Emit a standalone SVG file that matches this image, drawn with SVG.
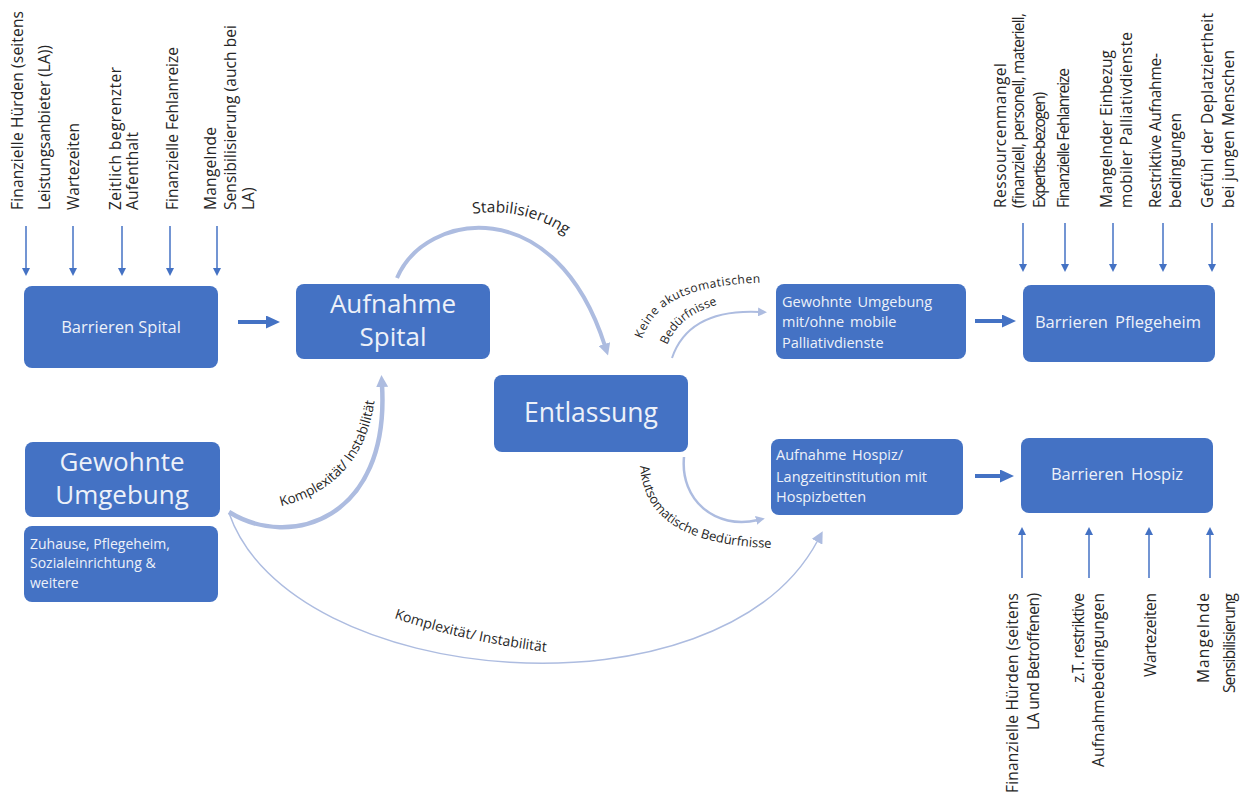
<svg xmlns="http://www.w3.org/2000/svg" width="1243" height="796" viewBox="0 0 1243 796">
<style>
text { font-family: "Open Sans", "Noto Sans", "DejaVu Sans", sans-serif; }
.box { fill: #4472C4; }
.bt { fill: #EDF1F9; }
.lbl { fill: #262626; font-size: 15.5px; }
.arr { stroke: #4472C4; stroke-width: 1.5; fill: none; }
.thick { stroke: #4472C4; stroke-width: 4; fill: none; }
.arc { stroke: #ADBCE0; fill: none; }
.al { fill: #262626; }
</style>
<defs>
<marker id="mD" markerUnits="userSpaceOnUse" markerWidth="8" markerHeight="8" refX="0" refY="4" orient="auto"><path d="M0,0 L8,4 L0,8 z" fill="#4472C4"/></marker>
<marker id="mT" markerUnits="userSpaceOnUse" markerWidth="14" markerHeight="13" refX="0" refY="6.5" orient="auto"><path d="M0,0 L14,6.5 L0,13 z" fill="#4472C4"/></marker>
<marker id="mL" markerUnits="userSpaceOnUse" markerWidth="12" markerHeight="12" refX="2" refY="6" orient="auto"><path d="M0,0 L12,6 L0,12 z" fill="#ADBCE0"/></marker>
<marker id="mS" markerUnits="userSpaceOnUse" markerWidth="9" markerHeight="9" refX="2" refY="4.5" orient="auto"><path d="M0,0 L9,4.5 L0,9 z" fill="#ADBCE0"/></marker>
<path id="tpStab" d="M448,220 C485,206 545,208 585,252"/>
<path id="tpK1" d="M278,507 C330,495 372,460 376,385"/>
<path id="tpKe1" d="M642,339 C655,302 688,284 775,282"/>
<path id="tpKe2" d="M667,345 C677,322 695,309 732,301"/>
<path id="tpAk" d="M640,466 C644,522 690,550 795,548"/>
<path id="tpBig" d="M394,618 Q470,644 565,654"/>
</defs>
<rect width="1243" height="796" fill="#ffffff"/>

<g id="connectors">
  <line class="arr" x1="26" y1="226" x2="26" y2="268" marker-end="url(#mD)"/>
  <line class="arr" x1="73" y1="226" x2="73" y2="268" marker-end="url(#mD)"/>
  <line class="arr" x1="122" y1="226" x2="122" y2="268" marker-end="url(#mD)"/>
  <line class="arr" x1="170" y1="226" x2="170" y2="268" marker-end="url(#mD)"/>
  <line class="arr" x1="217" y1="226" x2="217" y2="268" marker-end="url(#mD)"/>
  <line class="arr" x1="1023" y1="223" x2="1023" y2="264" marker-end="url(#mD)"/>
  <line class="arr" x1="1065" y1="223" x2="1065" y2="264" marker-end="url(#mD)"/>
  <line class="arr" x1="1113" y1="223" x2="1113" y2="264" marker-end="url(#mD)"/>
  <line class="arr" x1="1163" y1="223" x2="1163" y2="264" marker-end="url(#mD)"/>
  <line class="arr" x1="1212" y1="223" x2="1212" y2="264" marker-end="url(#mD)"/>
  <line class="arr" x1="1022" y1="578" x2="1022" y2="535" marker-end="url(#mD)"/>
  <line class="arr" x1="1089" y1="578" x2="1089" y2="535" marker-end="url(#mD)"/>
  <line class="arr" x1="1149" y1="578" x2="1149" y2="535" marker-end="url(#mD)"/>
  <line class="arr" x1="1210" y1="578" x2="1210" y2="535" marker-end="url(#mD)"/>
  <line class="thick" x1="238" y1="322" x2="266" y2="322" marker-end="url(#mT)"/>
  <line class="thick" x1="975" y1="321" x2="1002" y2="321" marker-end="url(#mT)"/>
  <line class="thick" x1="975" y1="476" x2="1000" y2="476" marker-end="url(#mT)"/>
  <path class="arc" stroke-width="4" d="M397,278 C425,212 555,190 605,346" marker-end="url(#mL)"/>
  <path class="arc" stroke-width="4.5" d="M229,512 C290,550 390,520 382,385" marker-end="url(#mL)"/>
  <path class="arc" stroke-width="2" d="M672,358 C685,320 720,310 760,312" marker-end="url(#mS)"/>
  <path class="arc" stroke-width="2.5" d="M684,457 C680,500 715,530 758,520" marker-end="url(#mS)"/>
  <path class="arc" stroke-width="1.5" d="M229,513 C290,690 720,725 818,540" marker-end="url(#mL)"/>
  <text class="al" font-size="15.5"><textPath href="#tpStab" startOffset="50%" text-anchor="middle">Stabilisierung</textPath></text>
  <text class="al" font-size="13.5"><textPath href="#tpK1" startOffset="3">Komplexität/ Instabilität</textPath></text>
  <text class="al" font-size="12" letter-spacing="0.5"><textPath href="#tpKe1" startOffset="0">Keine akutsomatischen</textPath></text>
  <text class="al" font-size="12"><textPath href="#tpKe2" startOffset="0">Bedürfnisse</textPath></text>
  <text class="al" font-size="13"><textPath href="#tpAk" startOffset="0">Akutsomatische Bedürfnisse</textPath></text>
  <text class="al" font-size="14"><textPath href="#tpBig" startOffset="0">Komplexität/ Instabilität</textPath></text>
</g>

<g id="labels-spital">
  <text class="lbl" transform="translate(23,210) rotate(-90)" textLength="199">Finanzielle Hürden (seitens</text>
  <text class="lbl" transform="translate(50,210) rotate(-90)">Leistungsanbieter (LA))</text>
  <text class="lbl" transform="translate(79,210) rotate(-90)" textLength="87">Wartezeiten</text>
  <text class="lbl" transform="translate(121,210) rotate(-90)" textLength="143">Zeitlich begrenzter</text>
  <text class="lbl" transform="translate(138,210) rotate(-90)" textLength="78">Aufenthalt</text>
  <text class="lbl" transform="translate(178,210) rotate(-90)" textLength="163">Finanzielle Fehlanreize</text>
  <text class="lbl" transform="translate(216,210) rotate(-90)" textLength="83">Mangelnde</text>
  <text class="lbl" transform="translate(236,210) rotate(-90)" textLength="185">Sensibilisierung (auch bei</text>
  <text class="lbl" transform="translate(254,210) rotate(-90)">LA)</text>
</g>

<g id="labels-pflegeheim">
  <text class="lbl" transform="translate(1006,208) rotate(-90)" textLength="145">Ressourcenmangel</text>
  <text class="lbl" font-size="11" transform="translate(1024,208) rotate(-90)" textLength="195">(finanziell, personell, materiell,</text>
  <text class="lbl" font-size="11" transform="translate(1045,208) rotate(-90)" textLength="116">Expertise-bezogen)</text>
  <text class="lbl" font-size="10.5" transform="translate(1069,208) rotate(-90)" textLength="140">Finanzielle Fehlanreize</text>
  <text class="lbl" transform="translate(1112,208) rotate(-90)" textLength="158">Mangelnder Einbezug</text>
  <text class="lbl" transform="translate(1132,208) rotate(-90)" textLength="176">mobiler Palliativdienste</text>
  <text class="lbl" transform="translate(1161,208) rotate(-90)" textLength="155">Restriktive Aufnahme-</text>
  <text class="lbl" transform="translate(1181,208) rotate(-90)" textLength="95">bedingungen</text>
  <text class="lbl" transform="translate(1213,208) rotate(-90)" textLength="195">Gefühl der Deplatziertheit</text>
  <text class="lbl" transform="translate(1234,208) rotate(-90)" textLength="158">bei jungen Menschen</text>
</g>

<g id="labels-hospiz">
  <text class="lbl" transform="translate(1018,793) rotate(-90)" textLength="200">Finanzielle Hürden (seitens</text>
  <text class="lbl" transform="translate(1039,730) rotate(-90)" textLength="137">LA und Betroffenen)</text>
  <text class="lbl" transform="translate(1084,683) rotate(-90)" textLength="90">z.T. restriktive</text>
  <text class="lbl" transform="translate(1104,767) rotate(-90)" textLength="174">Aufnahmebedingungen</text>
  <text class="lbl" transform="translate(1156,677) rotate(-90)" textLength="84">Wartezeiten</text>
  <text class="lbl" transform="translate(1209,683) rotate(-90)" textLength="90">Mangelnde</text>
  <text class="lbl" transform="translate(1235,693) rotate(-90)" textLength="100">Sensibilisierung</text>
</g>

<g id="barrieren-spital">
  <rect class="box" x="24" y="286" width="194" height="82" rx="8"/>
  <text class="bt" x="121" y="333" font-size="16.5" text-anchor="middle">Barrieren Spital</text>
</g>
<g id="aufnahme-spital">
  <rect class="box" x="296" y="284" width="194" height="75" rx="8"/>
  <text class="bt" x="393" y="313" font-size="26" text-anchor="middle">Aufnahme</text>
  <text class="bt" x="393" y="346" font-size="26" text-anchor="middle">Spital</text>
</g>
<g id="entlassung">
  <rect class="box" x="494" y="375" width="194" height="77" rx="8"/>
  <text class="bt" x="591" y="422" font-size="26.5" text-anchor="middle">Entlassung</text>
</g>
<g id="gewohnte-umgebung">
  <rect class="box" x="25" y="442" width="195" height="75" rx="8"/>
  <text class="bt" x="122" y="471" font-size="26" text-anchor="middle">Gewohnte</text>
  <text class="bt" x="122" y="504" font-size="26" text-anchor="middle">Umgebung</text>
</g>
<g id="zuhause">
  <rect class="box" x="24" y="526" width="194" height="76" rx="8"/>
  <text class="bt" x="30" y="549" font-size="14">Zuhause, Pflegeheim,</text>
  <text class="bt" x="30" y="568" font-size="14">Sozialeinrichtung &amp;</text>
  <text class="bt" x="30" y="588" font-size="14">weitere</text>
</g>
<g id="gewohnte-umgebung-mobil">
  <rect class="box" x="776" y="284" width="190" height="75" rx="8"/>
  <text class="bt" x="782" y="307" font-size="14.5" word-spacing="2">Gewohnte Umgebung</text>
  <text class="bt" x="782" y="327" font-size="14.5" word-spacing="2">mit/ohne mobile</text>
  <text class="bt" x="782" y="348" font-size="14.5">Palliativdienste</text>
</g>
<g id="aufnahme-hospiz">
  <rect class="box" x="771" y="439" width="192" height="76" rx="8"/>
  <text class="bt" x="776" y="460" font-size="14.5" word-spacing="2">Aufnahme Hospiz/</text>
  <text class="bt" x="776" y="482" font-size="14.5">Langzeitinstitution mit</text>
  <text class="bt" x="776" y="502" font-size="14.5">Hospizbetten</text>
</g>
<g id="barrieren-pflegeheim">
  <rect class="box" x="1023" y="285" width="192" height="77" rx="8"/>
  <text class="bt" x="1118" y="328" font-size="16.5" text-anchor="middle" word-spacing="3">Barrieren Pflegeheim</text>
</g>
<g id="barrieren-hospiz">
  <rect class="box" x="1021" y="438" width="192" height="75" rx="8"/>
  <text class="bt" x="1117" y="480" font-size="16.5" text-anchor="middle" word-spacing="3">Barrieren Hospiz</text>
</g>
</svg>
